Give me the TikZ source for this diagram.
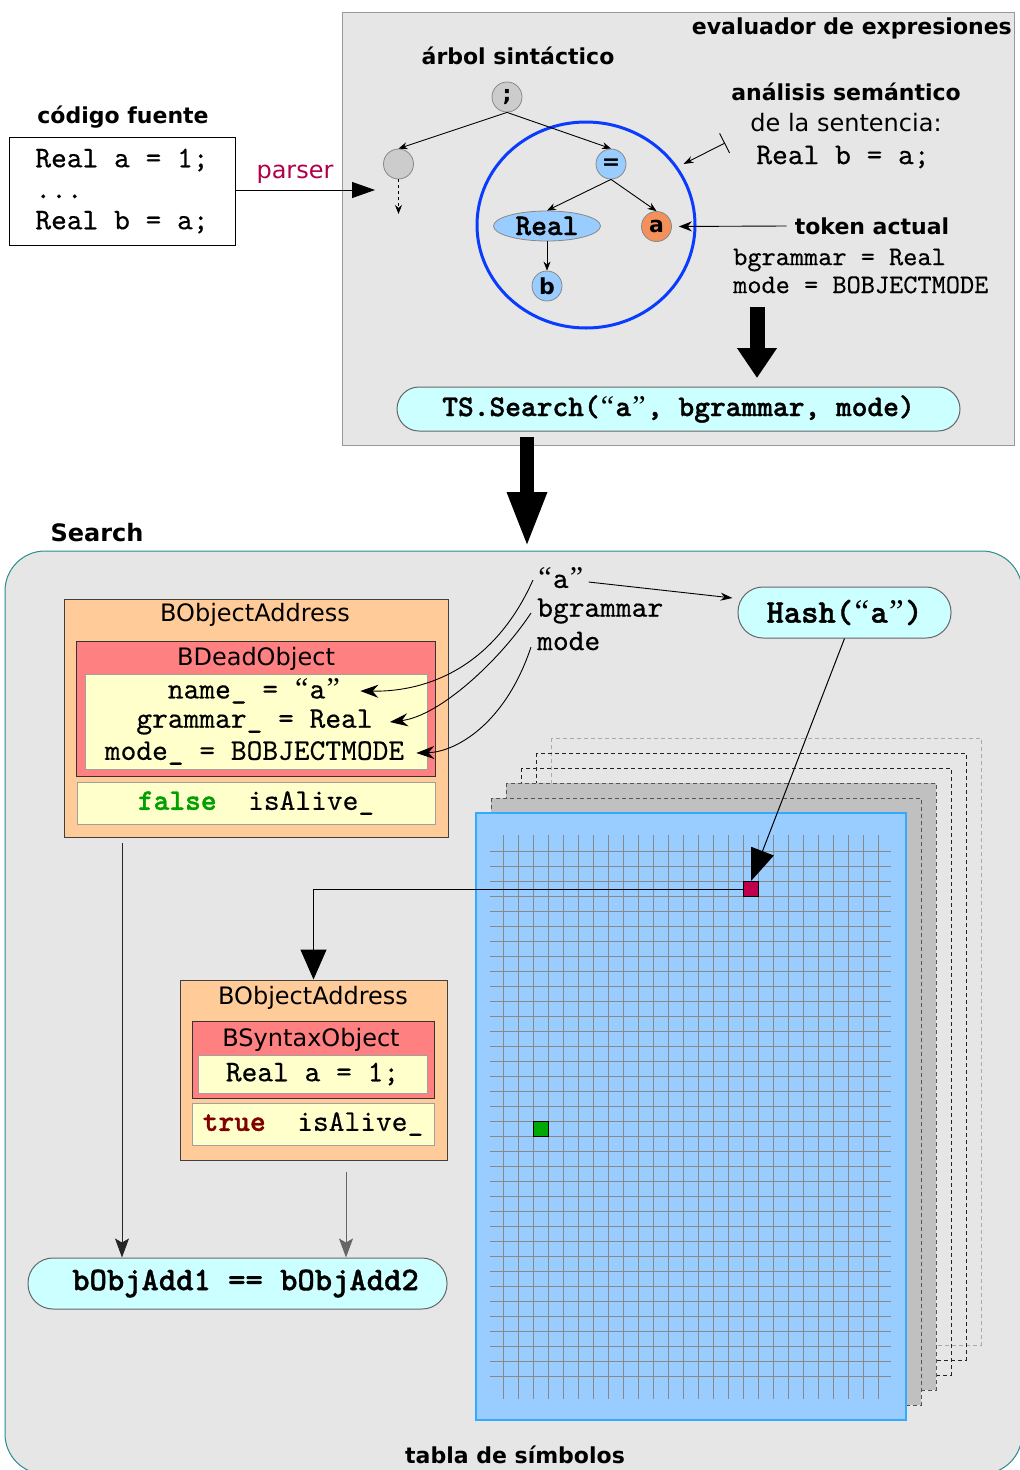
\documentclass[tikz,border=0pt]{standalone}
\usepackage{fontspec}
\setmainfont{DejaVu Sans}
\setmonofont{lmmono10-regular.otf}[FakeBold=0.4]
\newfontfamily\heavymono{lmmonolt10-bold.otf}[FakeBold=1.2]
\newfontfamily\quotefont{Liberation Serif}
\newcommand\openq{\makebox[0.525em]{\quotefont“}}
\newcommand\closeq{\makebox[0.525em]{\quotefont”}}
\usetikzlibrary{arrows.meta,shapes.geometric}

\definecolor{panelgray}{HTML}{E6E6E6}
\definecolor{panelrule}{HTML}{999999}
\definecolor{pillfill}{HTML}{CCFFFF}
\definecolor{pillrule}{HTML}{666666}
\definecolor{addrfill}{HTML}{FFCC99}
\definecolor{objfill}{HTML}{FF8080}
\definecolor{fieldfill}{HTML}{FFFFCC}
\definecolor{fieldrule}{HTML}{A0A0A0}
\definecolor{nodeblue}{HTML}{99CCFF}
\definecolor{nodegray}{HTML}{CCCCCC}
\definecolor{nodeorange}{HTML}{F4915A}
\definecolor{noderule}{HTML}{888888}
\definecolor{ringblue}{HTML}{0A3CFF}
\definecolor{parsercol}{HTML}{B0004A}
\definecolor{searchrule}{HTML}{2A8C8C}
\definecolor{falsegreen}{HTML}{00A000}
\definecolor{truered}{HTML}{800000}
\definecolor{tableblue}{HTML}{99CCFF}
\definecolor{tablerule}{HTML}{33AAFF}
\definecolor{gridgray}{HTML}{888888}
\definecolor{hashred}{HTML}{C0004A}
\definecolor{slotgreen}{HTML}{00AA00}
\definecolor{layergray}{HTML}{C0C0C0}
\definecolor{layermid}{HTML}{555555}
\definecolor{layerdark}{HTML}{222222}
\definecolor{layerpale}{HTML}{AAAAAA}

\tikzset{
  hd/.style={font=\fontsize{22}{26}\selectfont\bfseries, inner sep=0pt},
  txt/.style={font=\fontsize{24}{28}\selectfont, inner sep=0pt},
  mono/.style={font=\ttfamily\fontsize{30}{31}\selectfont, inner sep=0pt},
  monob/.style={font=\heavymono\fontsize{30}{31}\selectfont, inner sep=0pt},
  monosmall/.style={font=\ttfamily\fontsize{27}{28}\selectfont, inner sep=0pt},
  monobig/.style={font=\heavymono\fontsize{33}{36}\selectfont, inner sep=0pt},
  frame/.style={rectangle, inner sep=0pt, line width=1pt},
  pill/.style={draw=pillrule, fill=pillfill, rectangle, rounded corners=#1, inner sep=0pt, line width=1pt},
  pill/.default=22pt,
  treenode/.style={circle, draw=noderule, minimum size=30pt, inner sep=0pt, line width=0.8pt,
    font=\fontsize{22}{26}\selectfont\bfseries},
  tarrow/.style={-{Stealth[length=9pt,width=7pt]}, line width=0.9pt},
  slot/.style={rectangle, draw=black, minimum size=15pt, inner sep=0pt, line width=1pt},
  feed/.style={-{Stealth[length=18pt,width=13pt]}, line width=0.9pt},
  drop/.style={-{Stealth[length=19pt,width=14pt,inset=4pt]}, line width=1pt},
  gridline/.style={gridgray, line width=1pt},
}

\begin{document}
\begin{tikzpicture}[x=1pt,y=-1pt]
\useasboundingbox (0,0) rectangle (1020,1470);

% ---------- expression evaluator panel ----------
\node[frame, draw=panelrule, fill=panelgray, minimum width=672pt, minimum height=433pt] (eval) at (678,228.5) {};
\node[hd, anchor=east] (evaltitle) at (1012,28) {evaluador de expresiones};
\node[hd] (treetitle) at (518,56) {árbol sintáctico};

% syntax tree
\node[ellipse, draw=ringblue, line width=3pt, minimum width=218pt, minimum height=206pt, inner sep=0pt] (ring) at (586,225) {};
\node[treenode, fill=nodegray] (semi) at (507,97) {;};
\node[treenode, fill=nodegray] (leftn) at (398.5,164) {};
\node[treenode, fill=nodeblue] (eq) at (611,164) {=};
\node[ellipse, draw=noderule, fill=nodeblue, line width=0.8pt, minimum width=107pt, minimum height=30pt, inner sep=0pt, monob] (realn) at (547,226) {Real};
\node[treenode, fill=nodeorange] (an) at (656.5,226.5) {a};
\node[treenode, fill=nodeblue] (bn) at (547,286) {b};
\coordinate (leftcont) at (398.5,214);

\draw[tarrow] (semi.south) -- (leftn.north);
\draw[tarrow] (semi.south) -- (eq.north);
\draw[tarrow] (eq.south) -- (realn.north);
\draw[tarrow] (eq.south) -- (an.north);
\draw[tarrow] (realn.south) -- (bn.north);
\draw[tarrow, dashed] (leftn.south) -- (leftcont);

% semantic analysis note
\node[hd] (semtitle) at (846,92) {análisis semántico};
\node[txt] (semsub) at (846,123) {de la sentencia:};
\node[mono] (semcode) at (843,157) {Real b = a;};
\coordinate (semtail) at (725,143);
\coordinate (semtip) at (683.5,164);
\draw[{Bar[width=22pt]}-{Stealth[length=10pt,width=7pt]}, line width=0.9pt] (semtail) -- (semtip);

% current token
\node[hd, inner sep=8pt] (token) at (872,226) {token actual};
\draw[-{Stealth[length=13pt,width=10pt]}, line width=0.9pt, shorten >=7pt] (token.west) -- (an.east);
\node[monosmall, anchor=west, align=left] (tokeninfo) at (733,271) {bgrammar = Real\\mode = BOBJECTMODE};

% search call
\node[pill, minimum width=563pt, minimum height=44pt, monob] (ts) at (678.5,409) {TS.Search(\openq a\closeq, bgrammar, mode)};
\coordinate (ba1s) at (757,307);
\coordinate (ba1e) at (757,378);
\draw[line width=15pt, -{Triangle[length=30pt,width=38pt]}] (ba1s) -- (ba1e);

% ---------- source code ----------
\node[hd] (srctitle) at (123,117) {código fuente};
\node[frame, draw=black, fill=white, minimum width=226pt, minimum height=108pt, align=left, mono] (code) at (122,191)
  {Real a = 1;\\...\\Real b = a;};
\coordinate (parserend) at (375,190);
\draw[-{Triangle[length=23pt,width=16pt]}, line width=1pt] (code.east |- parserend) -- (parserend);
\node[txt, text=parsercol] (parserlbl) at (295,174) {parser};

% ---------- search region ----------
\node[hd, font=\fontsize{24}{28}\selectfont\bfseries] (searchtitle) at (97,533) {Search};
\draw[draw=searchrule, fill=panelgray, line width=1pt, rounded corners=40pt] (5,551) rectangle (1022,1474);
\node[hd] (tabletitle) at (515,1455) {tabla de símbolos};

\coordinate (ba2s) at (527,437);
\coordinate (ba2e) at (527,548);
\draw[line width=14pt, -{Triangle[length=56pt,width=36pt]}] (ba2s) -- (ba2e);

% stacked symbol-table pages
\foreach \k/\col/\fil in {5/layerpale/none,4/layerdark/none,3/layerdark/none,2/layermid/layergray,1/layermid/layergray}{
  \draw[dash pattern=on 4pt off 3pt, draw=\col, fill=\fil, line width=1pt]
    ({476+15*\k},{813-15*\k}) rectangle ({906+15*\k},{1420-15*\k});
}
\draw[fill=tableblue, draw=tablerule, line width=1.5pt] (476,813) rectangle (906,1420);
\foreach \i in {0,...,25}
  \draw[gridline] ({503.5+15*\i},835) -- ({503.5+15*\i},1399);
\foreach \j in {0,...,35}
  \draw[gridline] (490,{851.5+15*\j}) -- (891,{851.5+15*\j});
\node[slot, fill=hashred] (hashslot) at (751,889) {};
\node[slot, fill=slotgreen] (liveslot) at (541,1129) {};

% search arguments and hash
\node[mono, anchor=west] (qa) at (537,578) {\openq a\closeq};
\node[mono, anchor=west] (qg) at (537,611) {bgrammar};
\node[mono, anchor=west] (qm) at (537,641) {mode};
\node[pill=25pt, minimum width=213pt, minimum height=51pt, monobig] (hash) at (844.5,612.5) {Hash(\openq a\closeq)};

% first address: dead object
\node[frame, draw=black!75, fill=addrfill, minimum width=384pt, minimum height=238pt] (addr1) at (256,718) {};
\node[txt] (addr1title) at (255,615) {BObjectAddress};
\node[frame, draw=black!80, fill=objfill, minimum width=359pt, minimum height=135pt] (dead) at (255.5,708.5) {};
\node[txt] (deadtitle) at (256,659) {BDeadObject};
\node[frame, draw=fieldrule, fill=fieldfill, minimum width=342pt, minimum height=95pt] (fields1) at (256,721.5) {};
\node[mono] (f1) at (254.5,691) {name\_ = \openq a\closeq};
\node[mono] (f2) at (254.5,722) {grammar\_ = Real};
\node[mono] (f3) at (254.5,753) {mode\_ = BOBJECTMODE};
\node[frame, draw=fieldrule, fill=fieldfill, minimum width=358pt, minimum height=42pt, mono] (alive1) at (256,803)
  {{\heavymono\color{falsegreen}false}\ \ isAlive\_};

% second address: syntax object
\node[frame, draw=black!75, fill=addrfill, minimum width=267pt, minimum height=180pt] (addr2) at (313.5,1070) {};
\node[txt] (addr2title) at (313,998) {BObjectAddress};
\node[frame, draw=black!80, fill=objfill, minimum width=242pt, minimum height=77pt] (syn) at (313,1059.5) {};
\node[txt] (syntitle) at (311,1040) {BSyntaxObject};
\node[frame, draw=fieldrule, fill=fieldfill, minimum width=229pt, minimum height=38pt, mono] (fields2) at (312.5,1074) {Real a = 1;};
\node[frame, draw=fieldrule, fill=fieldfill, minimum width=242pt, minimum height=42pt, mono] (alive2) at (313,1124)
  {{\heavymono\color{truered}true}\ \ isAlive\_};

% comparison
\node[pill=25pt, minimum width=419pt, minimum height=51pt, monobig] (cmp) at (237.5,1283.5) {\hspace{16pt}bObjAdd1 == bObjAdd2};

% ---------- connectors ----------
\draw[feed] ([xshift=-4pt,yshift=-2pt]qa.west) .. controls (495,665) and (430,692) .. ([xshift=19pt]f1.east);
\draw[feed] ([xshift=-6pt,yshift=-2pt]qg.west) .. controls (500,660) and (440,716) .. ([xshift=17pt]f2.east);
\draw[feed] ([xshift=-6pt,yshift=-6pt]qm.west) .. controls (505,725) and (455,752) .. ([xshift=12pt]f3.east);
\draw[-{Stealth[length=12pt,width=8pt]}, line width=0.9pt] ([xshift=4pt,yshift=-4pt]qa.east) -- ([shift={(-5,-14.5)}]hash.west);
\draw[-{Triangle[length=32pt,width=24pt]}, line width=1pt] (hash.south) -- (hashslot.north);
\draw[-{Triangle[length=30pt,width=26pt]}, line width=1pt] (hashslot.west) -| (addr2.north);

\coordinate (d1) at (122,843);
\coordinate (d2) at (346,1172);
\draw[drop, draw=black!85] (d1) -- (d1 |- cmp.north);
\draw[drop, draw=black!60] (d2) -- (d2 |- cmp.north);
\end{tikzpicture}
\end{document}
